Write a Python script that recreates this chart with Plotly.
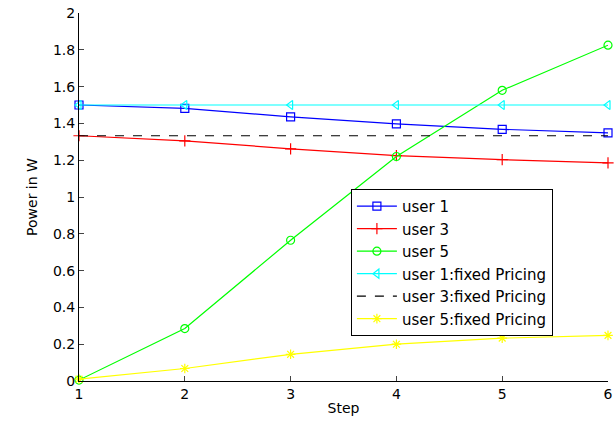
import plotly.graph_objects as go

steps = [1, 2, 3, 4, 5, 6]
user1 = [1.5, 1.482, 1.435, 1.397, 1.368, 1.348]
user3 = [1.333, 1.305, 1.262, 1.225, 1.203, 1.186]
user5 = [0.005, 0.285, 0.765, 1.22, 1.58, 1.825]
user1_fixed = [1.5, 1.5, 1.5, 1.5, 1.5, 1.5]
user3_fixed = [1.333, 1.333, 1.333, 1.333, 1.333, 1.333]
user5_fixed = [0.01, 0.068, 0.145, 0.2, 0.233, 0.248]

x_ticks = [1, 2, 3, 4, 5, 6]
y_ticks = [0, 0.2, 0.4, 0.6, 0.8, 1, 1.2, 1.4, 1.6, 1.8, 2]
y_tick_text = ["0", "0.2", "0.4", "0.6", "0.8", "1", "1.2", "1.4", "1.6", "1.8", "2"]

series = [
    ("user 1", user1, "#0000ff", "square-open", "solid"),
    ("user 3", user3, "#ff0000", "cross-thin-open", "solid"),
    ("user 5", user5, "#00ff00", "circle-open", "solid"),
    ("user 1:fixed Pricing", user1_fixed, "#00ffff", "triangle-left-open", "solid"),
    ("user 3:fixed Pricing", user3_fixed, "#000000", None, "dash"),
    ("user 5:fixed Pricing", user5_fixed, "#ffff00", "asterisk-open", "solid"),
]

fig = go.Figure()
for name, ys, color, sym, dash in series:
    if sym is None:
        fig.add_trace(go.Scatter(x=steps, y=ys, name=name, mode="lines",
                                 line=dict(color=color, width=1.2, dash=dash),
                                 cliponaxis=False))
    else:
        fig.add_trace(go.Scatter(x=steps, y=ys, name=name, mode="lines+markers",
                                 line=dict(color=color, width=1.2, dash=dash),
                                 cliponaxis=False,
                                 marker=dict(symbol=sym, size=8, color=color,
                                             line=dict(color=color, width=1.2))))

font = "DejaVu Sans, sans-serif"
fig.update_layout(
    width=615, height=428,
    margin=dict(l=79, r=7, t=13, b=47, autoexpand=False),
    paper_bgcolor="white", plot_bgcolor="white",
    font=dict(family=font, size=14, color="black"),
    showlegend=True,
    legend=dict(x=0.514, y=0.522, xanchor="left", yanchor="top",
                bgcolor="white", bordercolor="black", borderwidth=1,
                font=dict(family=font, size=15, color="black"),
                tracegroupgap=0, itemwidth=40),
    xaxis=dict(range=[1, 6], tickvals=x_ticks, ticks="inside", ticklen=5,
               showline=True, linecolor="black", linewidth=1, showgrid=False,
               zeroline=False, tickfont=dict(size=14),
               title=dict(text="Step", font=dict(size=14), standoff=2)),
    yaxis=dict(range=[0, 2], tickvals=y_ticks, ticktext=y_tick_text, ticks="inside",
               ticklen=5, showline=True, linecolor="black", linewidth=1,
               showgrid=False, zeroline=False, tickfont=dict(size=14),
               title=dict(text="Power in W", font=dict(size=14), standoff=12)),
)
fig.write_html("out.html", config={"displayModeBar": False},
               post_script="document.body.style.margin='0';document.body.style.padding='0';window.dispatchEvent(new Event('resize'));")
